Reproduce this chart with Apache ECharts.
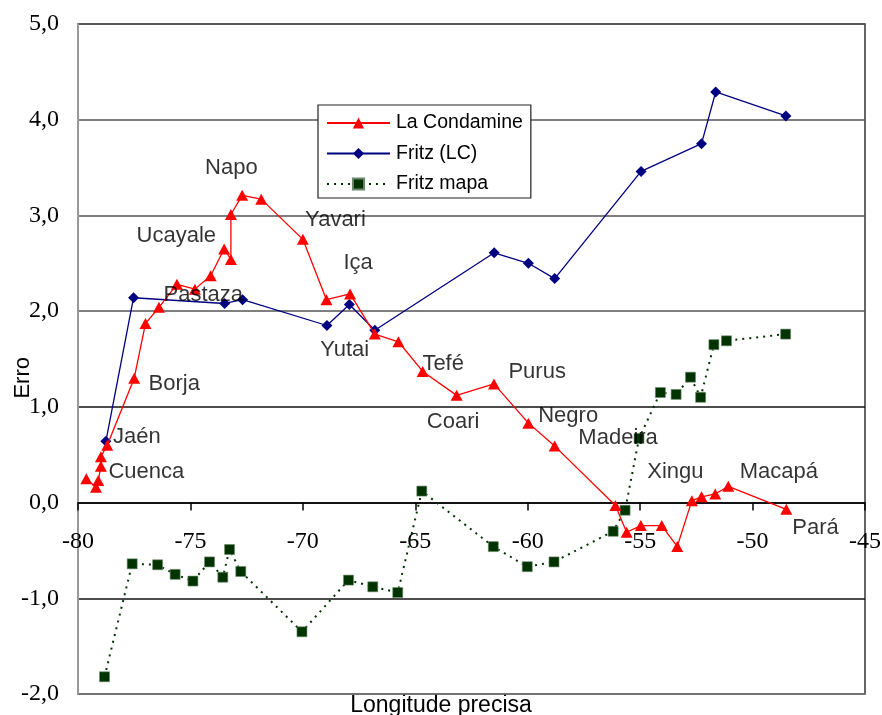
<!DOCTYPE html>
<html>
<head>
<meta charset="utf-8">
<script src="https://cdn.jsdelivr.net/npm/echarts@6/dist/echarts.min.js"></script>
<style>
  html, body { margin: 0; padding: 0; background: #fff; }
  #chart { width: 882px; height: 715px; }
</style>
</head>
<body>
<div id="chart"></div>
<script>
// La Condamine (red triangles)
const lonLC = [-79.63, -79.2, -79.1, -78.98, -78.98, -78.7, -77.5, -77.0, -76.4, -75.6, -74.8, -74.1,
  -73.5, -73.2, -73.2, -72.7, -71.85, -70.0, -68.95, -67.9, -66.8, -65.75, -64.67, -63.16, -61.5,
  -59.97, -58.8, -56.1, -55.6, -54.97, -54.04, -53.35, -52.7, -52.27, -51.66, -51.08, -48.5];
const errLC = [0.25, 0.16, 0.23, 0.38, 0.48, 0.6, 1.30, 1.87, 2.04, 2.28, 2.23, 2.37,
  2.65, 2.54, 3.01, 3.21, 3.17, 2.75, 2.12, 2.18, 1.76, 1.68, 1.37, 1.12, 1.24,
  0.83, 0.59, -0.03, -0.31, -0.24, -0.24, -0.46, 0.02, 0.06, 0.09, 0.17, -0.07];

// Fritz (LC) (navy diamonds)
const lonFritz = [-78.76, -77.53, -73.48, -72.68, -68.93, -67.93, -66.8, -61.49, -59.97, -58.8,
  -54.96, -52.27, -51.64, -48.52];
const errFritz = [0.64, 2.14, 2.08, 2.12, 1.85, 2.07, 1.80, 2.61, 2.50, 2.34, 3.46, 3.75, 4.29, 4.04];

// Fritz mapa (dark green squares, dotted)
const lonMapa = [-78.82, -77.59, -76.46, -75.68, -74.89, -74.15, -73.56, -73.26, -72.76, -70.04,
  -67.97, -66.89, -65.78, -64.71, -61.53, -60.02, -58.83, -56.2, -55.67, -55.05, -54.1, -53.4,
  -52.76, -52.31, -51.72, -51.16, -48.53];
const errMapa = [-1.82, -0.64, -0.65, -0.75, -0.82, -0.62, -0.78, -0.49, -0.72, -1.35,
  -0.81, -0.88, -0.94, 0.12, -0.46, -0.67, -0.62, -0.30, -0.08, 0.67, 1.15, 1.13,
  1.31, 1.10, 1.65, 1.69, 1.76];

// place names written on the plot, anchored in data coordinates
const placeNames = ["Napo", "Yavari", "Ucayale", "Iça", "Pastaza", "Yutai", "Borja", "Tefé", "Purus",
  "Jaén", "Negro", "Coari", "Madeira", "Cuenca", "Xingu", "Macapá", "Pará"];
const placeLon = [-73.18, -68.55, -75.63, -67.54, -74.43, -68.14, -75.72, -63.76, -59.58,
  -77.38, -58.2, -63.32, -55.98, -76.96, -53.43, -48.83, -47.2];
const placeErr = [3.50, 2.95, 2.79, 2.50, 2.17, 1.59, 1.24, 1.45, 1.37,
  0.69, 0.91, 0.84, 0.68, 0.32, 0.32, 0.32, -0.27];

const zip = (xs, ys) => xs.map((x, i) => [x, ys[i]]);
const sans = "'Liberation Sans', Arial, sans-serif";
const serif = "'Liberation Serif', 'Times New Roman', serif";

const chart = echarts.init(document.getElementById("chart"), null, { renderer: "canvas" });

// x axis sits on the zero line: grid is 670px tall for 7 units, zero is 2 units up
const zeroOffset = -(670 * 2 / 7);

chart.setOption({
  animation: false,
  backgroundColor: "#fff",
  grid: {
    left: 78, right: 17, top: 24, bottom: 21,
    containLabel: false, outerBoundsMode: "none",
    show: true, borderColor: "#333", borderWidth: 1.5
  },
  legend: {
    orient: "vertical",
    left: 318, top: 105,
    padding: [8, 8, 4, 8],
    itemWidth: 63, itemHeight: 14, itemGap: 10.5,
    backgroundColor: "#fff",
    borderColor: "#222", borderWidth: 1.2,
    textStyle: { fontFamily: sans, fontSize: 19.5, color: "#000", lineHeight: 20, padding: [0, 0, 0, 1] },
    data: ["La Condamine", "Fritz (LC)", "Fritz mapa"]
  },
  xAxis: {
    type: "value",
    min: -80, max: -45, interval: 5,
    position: "bottom",
    offset: zeroOffset,
    axisLine: { show: true, onZero: false, lineStyle: { color: "#000", width: 1.5 } },
    axisTick: { show: true, length: 8, lineStyle: { color: "#000", width: 1.5 } },
    axisLabel: {
      show: true,
      fontFamily: serif, fontSize: 24, color: "#000", margin: 27,
      showMinLabel: true, showMaxLabel: true,
      formatter: (v) => String(v)
    },
    splitLine: { show: false }
  },
  yAxis: {
    type: "value",
    min: -2, max: 5, interval: 1,
    axisLine: { show: true, lineStyle: { color: "#999", width: 2 } },
    axisTick: { show: false },
    axisLabel: {
      fontFamily: serif, fontSize: 24, color: "#000", margin: 19,
      formatter: (v) => v.toFixed(1).replace(".", ",")
    },
    splitLine: {
      show: true,
      lineStyle: { color: ["#777", "#111", "#111", "#111", "#555", "#555", "#555", "#555"], width: 1.6 }
    }
  },
  graphic: [
    {
      type: "text", left: 12, top: 357, rotation: Math.PI / 2,
      style: { text: "Erro", font: "22px " + sans, fill: "#000" }
    },
    {
      type: "text", left: "center", top: 694,
      style: { text: "Longitude precisa", font: "23px " + sans, fill: "#000" }
    }
  ],
  series: [
    {
      name: "La Condamine",
      type: "line",
      data: zip(lonLC, errLC),
      symbol: "triangle",
      symbolSize: [12, 11],
      itemStyle: { color: "#ff0000" },
      lineStyle: { color: "#ff0000", width: 1.3 },
      z: 4
    },
    {
      name: "Fritz (LC)",
      type: "line",
      data: zip(lonFritz, errFritz),
      symbol: "diamond",
      symbolSize: 11,
      itemStyle: { color: "#000080" },
      lineStyle: { color: "#000080", width: 1.3 },
      z: 3
    },
    {
      name: "Fritz mapa",
      type: "line",
      data: zip(lonMapa, errMapa),
      symbol: "rect",
      symbolSize: 10,
      itemStyle: { color: "#003300", borderColor: "#6b8a6b", borderWidth: 0.6 },
      lineStyle: { color: "#003300", width: 2, type: [2, 5] },
      z: 3
    },
    {
      name: "places",
      type: "scatter",
      silent: true,
      symbolSize: 0,
      z: 10,
      data: placeNames.map((n, i) => ({ name: n, value: [placeLon[i], placeErr[i]] })),
      label: {
        show: true, position: "inside",
        formatter: (p) => p.name,
        fontFamily: sans, fontSize: 22, color: "#000"
      }
    }
  ]
});
</script>
</body>
</html>
